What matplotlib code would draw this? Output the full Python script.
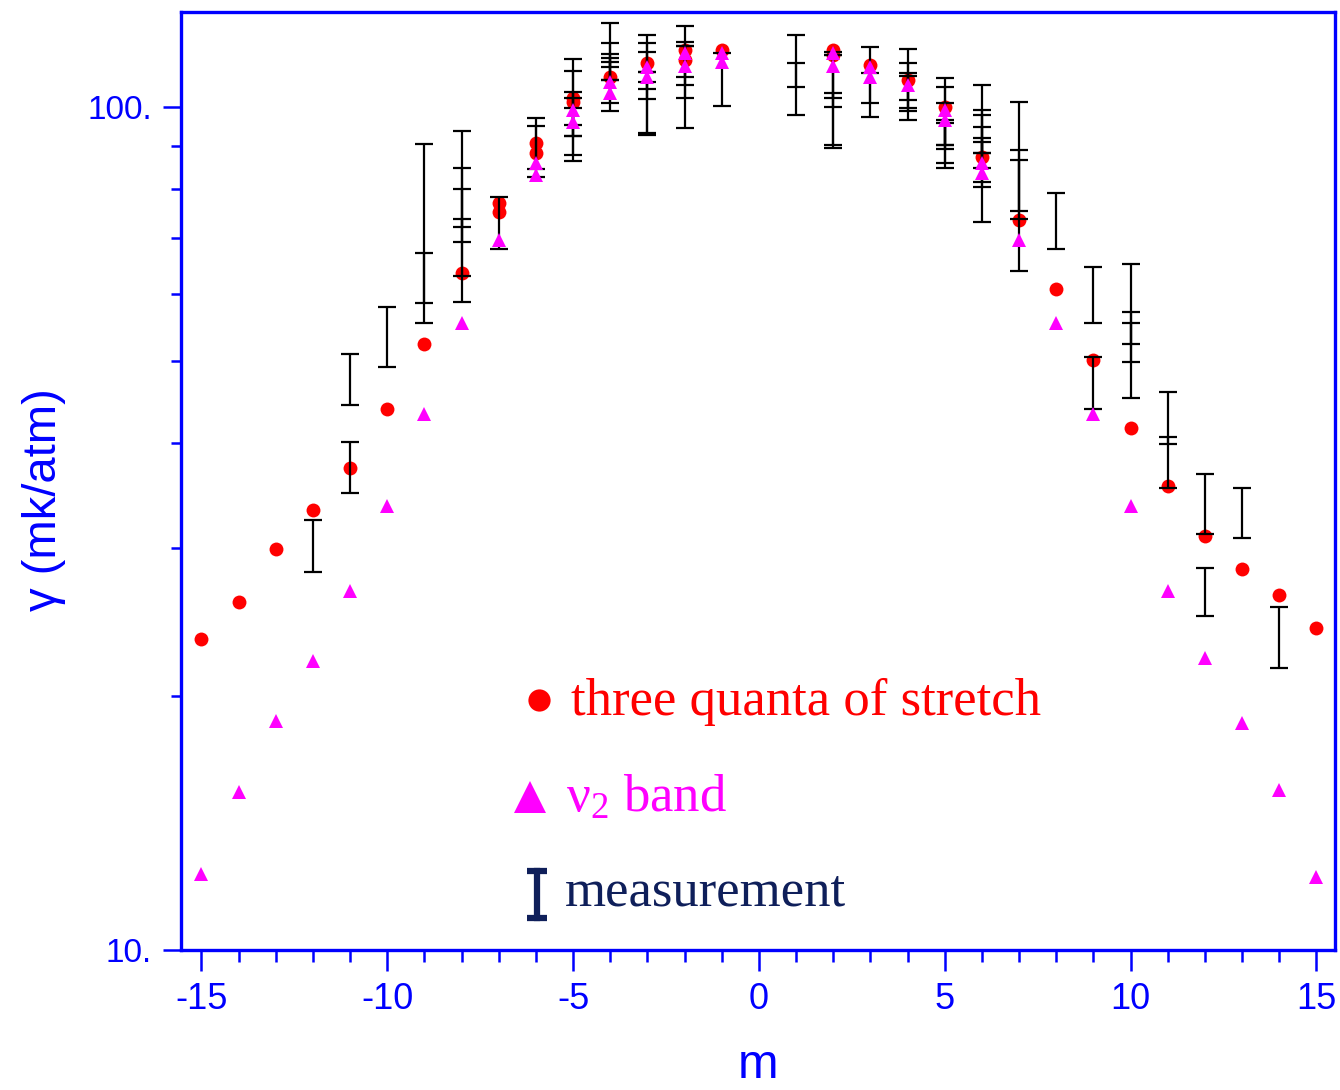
import numpy as np
import matplotlib
matplotlib.use("Agg")
import matplotlib.pyplot as plt
from matplotlib.ticker import FixedLocator, FixedFormatter, MultipleLocator, NullFormatter

# ── Data ─────────────────────────────────────────────────────────────────────

# calculated line widths, three quanta of stretch
calc3_m = [-15, -14, -13, -12, -11, -10, -9, -8, -7, -7, -6, -6, -5, -5,
           -4, -3, -2, -2, -1, 2, 2, 3, 4, 5, 6, 7, 8, 9, 10, 11, 12, 13, 14, 15]
calc3_g = [23.4, 25.9, 29.9, 33.3, 37.3, 43.9, 52.4, 63.5, 76.9, 75.0, 90.6, 88.2, 102.5, 101.4,
           108.5, 112.8, 116.9, 113.7, 116.9, 116.9, 115.3, 112.2, 107.7, 100.0, 87.2, 73.4,
           60.8, 50.1, 41.6, 35.5, 31.0, 28.3, 26.4, 24.1]

# calculated line widths, nu2 band
nu2_m = [-15, -14, -13, -12, -11, -10, -9, -8, -7, -6, -6, -5, -5, -4, -4, -3, -3,
         -2, -2, -1, -1, 2, 2, 3, 3, 4, 5, 5, 6, 6, 7, 8, 9, 10, 11, 12, 13, 14, 15]
nu2_g = [12.3, 15.4, 18.7, 22.0, 26.7, 33.6, 43.2, 55.4, 69.5, 85.8, 83.0, 99.2, 96.0,
         107.1, 103.9, 111.6, 108.5, 115.9, 111.9, 115.9, 113.1, 115.9, 111.9, 111.6, 108.5,
         106.2, 99.2, 96.5, 85.8, 83.5, 69.5, 55.4, 43.3, 33.6, 26.7, 22.2, 18.6, 15.5, 12.2]

# measured line widths, lower / upper limits of each bar
meas_m = [-12, -11, -11, -10, -9, -9, -8, -8, -8, -8, -7, -6, -6,
          -5, -5, -5, -5, -5, -4, -4, -4, -4, -4, -3, -3, -3, -3, -3,
          -2, -2, -2, -2, -1, 1, 1, 2, 2, 2, 2, 3, 3, 4, 4, 4, 4,
          5, 5, 5, 5, 5, 6, 6, 6, 6, 6, 6, 7, 7, 7, 8, 9, 9,
          10, 10, 10, 11, 11, 12, 12, 13, 14]
meas_lo = [28.1, 44.3, 34.9, 49.2, 58.5, 55.5, 72.0, 63.0, 69.1, 58.7, 67.8, 84.4, 82.6,
           92.4, 87.7, 95.2, 86.3, 92.4, 107.7, 101.1, 98.9, 111.6, 107.7,
           102.2, 93.1, 92.6, 107.1, 105.0,
           102.5, 94.4, 106.2, 108.5, 100.3, 105.6, 97.8, 90.1, 89.4, 100.0, 102.5,
           101.1, 97.3, 101.9, 99.7, 98.9, 96.5,
           90.1, 89.1, 85.8, 84.6, 90.1, 88.2, 84.6, 81.5, 80.4, 73.0, 88.2,
           73.6, 64.0, 75.4, 67.8, 55.4, 43.9,
           52.4, 49.8, 45.2, 39.9, 35.3, 31.2, 24.9, 30.8, 21.6]
meas_hi = [32.4, 51.0, 40.1, 57.9, 90.4, 67.1, 93.7, 84.6, 79.9, 73.6, 78.2, 97.0, 94.9,
           114.0, 110.3, 104.2, 102.5, 99.7, 125.8, 119.1, 115.6, 114.3, 113.1,
           121.8, 119.1, 116.2, 110.0, 110.0,
           124.8, 119.5, 118.2, 118.2, 115.9, 121.8, 112.8, 116.2, 115.3, 103.9, 115.3,
           117.8, 109.7, 117.2, 112.8, 109.7, 108.9,
           108.3, 105.6, 101.1, 96.5, 95.7, 106.2, 99.2, 97.8, 94.7, 91.9, 90.9,
           101.4, 88.9, 86.5, 79.0, 64.7, 50.5,
           65.1, 57.2, 55.4, 45.9, 40.6, 36.7, 28.4, 35.3, 25.5]

y_ticks = [10, 100]
y_tick_labels = ["10.", "100."]

# ── Style ────────────────────────────────────────────────────────────────────

BLUE = "#0000ff"
RED = "#ff0000"
MAGENTA = "#ff00ff"
NAVY = "#0f1f5a"
SERIF = ["Liberation Serif", "DejaVu Serif"]

plt.rcParams["font.family"] = ["Liberation Sans", "DejaVu Sans"]
plt.rcParams["axes.unicode_minus"] = False
plt.rcParams["mathtext.fontset"] = "custom"
plt.rcParams["mathtext.rm"] = "Liberation Serif"
plt.rcParams["mathtext.it"] = "Liberation Serif:italic"

fig = plt.figure(figsize=(13.4, 10.9), dpi=100)
ax = fig.add_axes([0.1351, 0.1284, 0.8612, 0.8606])

# ── Marks ────────────────────────────────────────────────────────────────────

ax.plot(calc3_m, calc3_g, "o", color=RED, ms=10, mew=0, zorder=2)

lo = np.array(meas_lo)
hi = np.array(meas_hi)
mid = (lo + hi) / 2
ax.errorbar(meas_m, mid, yerr=(hi - lo) / 2, fmt="none", ecolor="black",
            elinewidth=1.6, capsize=6.8, capthick=1.6, zorder=3)

ax.plot(nu2_m, nu2_g, "^", color=MAGENTA, ms=10.5, mew=0, zorder=4)

# ── Axes ─────────────────────────────────────────────────────────────────────

ax.set_yscale("log")
ax.set_xlim(-15.55, 15.5)
ax.set_ylim(10, 129.7)

ax.xaxis.set_major_locator(MultipleLocator(5))
ax.xaxis.set_minor_locator(MultipleLocator(1))
ax.yaxis.set_major_locator(FixedLocator(y_ticks))
ax.yaxis.set_major_formatter(FixedFormatter(y_tick_labels))
ax.yaxis.set_minor_locator(FixedLocator([20, 30, 40, 50, 60, 70, 80, 90]))
ax.yaxis.set_minor_formatter(NullFormatter())

for side in ["left", "right", "top", "bottom"]:
    ax.spines[side].set_color(BLUE)
    ax.spines[side].set_linewidth(2.4)

ax.tick_params(axis="x", which="major", direction="out", length=15, width=1.8,
               color=BLUE, labelcolor=BLUE, labelsize=26, pad=8)
ax.tick_params(axis="x", which="minor", direction="out", length=8.5, width=1.8, color=BLUE)
ax.tick_params(axis="y", which="major", direction="out", length=13, width=1.8,
               color=BLUE, labelcolor=BLUE, labelsize=24, pad=8)
ax.tick_params(axis="y", which="minor", direction="out", length=7.5, width=1.8, color=BLUE)

ax.set_xlabel("m", color=BLUE, fontsize=35)
ax.xaxis.set_label_coords(0.5, -0.099)
ax.set_ylabel("γ (mk/atm)", color=BLUE, fontsize=34)
ax.yaxis.set_label_coords(-0.100, 0.48)

# ── Key ──────────────────────────────────────────────────────────────────────

ax.plot([0.310], [0.2665], "o", color=RED, ms=16, mew=0, transform=ax.transAxes)
ax.text(0.338, 0.2505, "three quanta of stretch", color=RED, fontsize=38,
        family=SERIF, transform=ax.transAxes, va="baseline")

ax.plot([0.3024], [0.163], "^", color=MAGENTA, ms=23, mew=0, transform=ax.transAxes)
ax.text(0.3336, 0.147, r"$\mathrm{\nu_2}$ band", color=MAGENTA, fontsize=38,
        family=SERIF, transform=ax.transAxes, va="baseline")

ax.plot([0.3085, 0.3085], [0.0345, 0.0845], color=NAVY, lw=4.5, marker="_",
        ms=15, mew=4.5, transform=ax.transAxes)
ax.text(0.3328, 0.048, "measurement", color=NAVY, fontsize=38,
        family=SERIF, transform=ax.transAxes, va="baseline")

fig.savefig("out.png", dpi=100)
